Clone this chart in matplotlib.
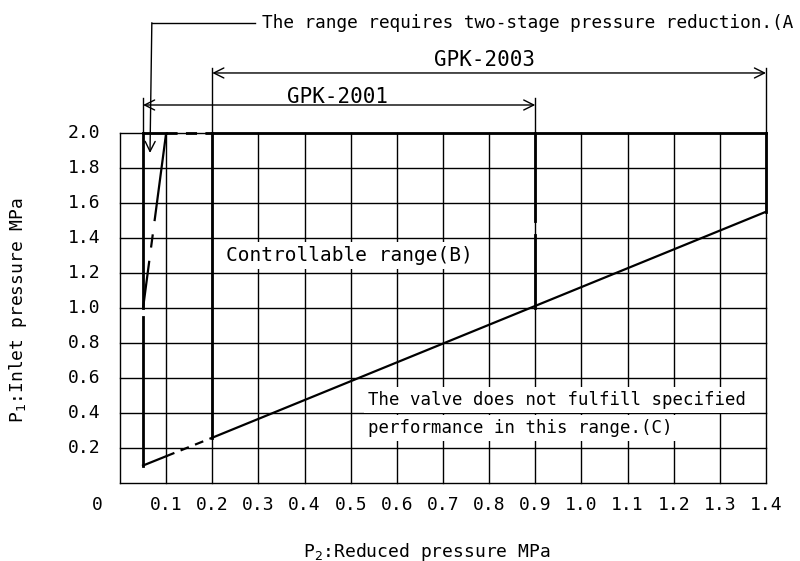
import matplotlib
matplotlib.use("Agg")
import matplotlib.pyplot as plt
import numpy as np

x_ticks = [0.1,0.2,0.3,0.4,0.5,0.6,0.7,0.8,0.9,1.0,1.1,1.2,1.3,1.4]
y_ticks = [0.2,0.4,0.6,0.8,1.0,1.2,1.4,1.6,1.8,2.0]
# boundary of controllable range: lower diagonal (P2, P1)
low_x = [0.05, 0.9, 1.4]
low_y = [0.1, 1.0, 1.55]
# two-stage region diagonal
two_x = [0.1, 0.05]
two_y = [2.0, 1.0]
gpk2001 = (0.05, 0.9)
gpk2003 = (0.2, 1.4)

W, H = 800, 561
fig = plt.figure(figsize=(W/100, H/100), dpi=100)
ax = fig.add_axes([120/W, 1-483/H, 646/W, 350/H])
ax.set_xlim(0, 1.4); ax.set_ylim(0, 2.0)
ax.axis('off')
font = dict(family='DejaVu Sans Mono', fontsize=11.5, color='black')
k = dict(color='black', clip_on=False)

# grid
for x in [0.0] + x_ticks:
    ax.plot([x, x], [0, 2.0], lw=1, zorder=1, **k)
for y in [0.0] + y_ticks:
    ax.plot([0, 1.4], [y, y], lw=1, zorder=1, **k)

def yl(x):
    return np.interp(x, low_x, low_y)

# left vertical x=0.05
ax.plot([0.05, 0.05], [0.1, 0.95], lw=2, zorder=3, **k)
ax.plot([0.05, 0.05], [1.0, 2.0], lw=2, zorder=3, **k)
# top line
ax.plot([0.05, 0.1], [2.0, 2.0], lw=2, zorder=3, **k)
ax.plot([0.1, 0.2], [2.0, 2.0], lw=2, ls=(0, (4, 3)), zorder=3, **k)
ax.plot([0.2, 1.4], [2.0, 2.0], lw=2, zorder=3, **k)
# two-stage diagonal
ax.plot(two_x, two_y, lw=1.6, ls=(0, (40, 6, 6, 6)), zorder=3, **k)
# lower diagonal
ax.plot([0.05, 0.1], [yl(0.05), yl(0.1)], lw=1.6, zorder=3, **k)
ax.plot([0.1, 0.2], [yl(0.1), yl(0.2)], lw=1.6, ls=(0, (4, 3)), zorder=3, **k)
ax.plot([0.2, 1.4], [yl(0.2), yl(1.4)], lw=1.6, zorder=3, **k)
# verticals
ax.plot([0.2, 0.2], [yl(0.2), 2.0], lw=2, zorder=3, **k)
ax.plot([0.9, 0.9], [1.0, 1.42], lw=2, zorder=3, **k)
ax.plot([0.9, 0.9], [1.5, 2.0], lw=2, zorder=3, **k)
ax.plot([1.4, 1.4], [yl(1.4), 2.0], lw=2, zorder=3, **k)

# dimension lines
for (a, b), yy, ext in [(gpk2001, 2.16, 2.2), (gpk2003, 2.343, 2.37)]:
    ax.plot([a, a], [2.0, ext], lw=1, **k)
    ax.plot([b, b], [2.0, ext], lw=1, **k)
    ax.annotate('', xy=(a, yy), xytext=(b, yy), annotation_clip=False,
                arrowprops=dict(arrowstyle='<->', lw=1, color='black',
                                shrinkA=0, shrinkB=0, mutation_scale=18))
ax.text(0.472, 2.206, 'GPK-2001', ha='center', va='center', **dict(font, fontsize=15))
ax.text(0.79, 2.42, 'GPK-2003', ha='center', va='center', **dict(font, fontsize=15))

# leader annotation A
ax.plot([0.069, 0.292], [2.63, 2.63], lw=1, **k)
ax.annotate('', xy=(0.065, 1.886), xytext=(0.069, 2.63), annotation_clip=False,
            arrowprops=dict(arrowstyle='->', lw=1, color='black',
                            shrinkA=0, shrinkB=0, mutation_scale=18))
ax.text(0.308, 2.63, 'The range requires two-stage pressure reduction.(A',
        ha='left', va='center', clip_on=False, **dict(font, fontsize=12.8))

box = dict(facecolor='white', edgecolor='none', pad=3)
ax.text(0.23, 1.30, 'Controllable range(B)', ha='left', va='center',
        bbox=box, zorder=2, **dict(font, fontsize=14))
ax.text(0.537, 0.474, 'The valve does not fulfill specified', ha='left',
        va='center', bbox=box, zorder=2, **dict(font, fontsize=12.5))
ax.text(0.537, 0.314, 'performance in this range.(C)', ha='left',
        va='center', bbox=box, zorder=2, **dict(font, fontsize=12.5))

# ticks
for y in y_ticks:
    ax.text(-0.043, y, f'{y:.1f}', ha='right', va='center', **dict(font, fontsize=13))
for x in x_ticks:
    ax.text(x, -0.126, f'{x:.1f}', ha='center', va='center', **dict(font, fontsize=13))
ax.text(-0.05, -0.126, '0', ha='center', va='center', **dict(font, fontsize=13))
ax.text(-0.221, 0.99, 'P$_1$:Inlet pressure MPa', rotation=90, ha='center',
        va='center', **dict(font, fontsize=13))
ax.text(0.665, -0.395, 'P$_2$:Reduced pressure MPa', ha='center', va='center',
        **dict(font, fontsize=13))

fig.savefig('out.png', dpi=100, facecolor='white')
